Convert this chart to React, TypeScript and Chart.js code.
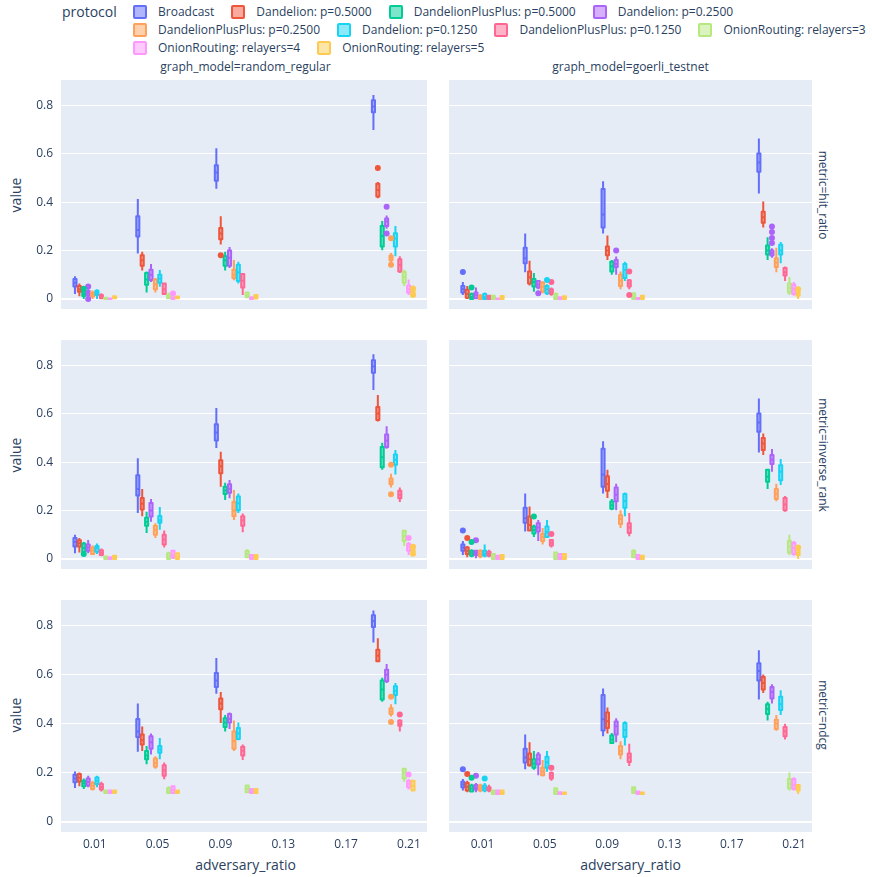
import React, { useEffect, useRef } from "react";
import { Chart, registerables } from "chart.js";

Chart.register(...registerables);

// ---------------- data ----------------
const PROTOCOLS = [
  "Broadcast",
  "Dandelion: p=0.5000",
  "DandelionPlusPlus: p=0.5000",
  "Dandelion: p=0.2500",
  "DandelionPlusPlus: p=0.2500",
  "Dandelion: p=0.1250",
  "DandelionPlusPlus: p=0.1250",
  "OnionRouting: relayers=3",
  "OnionRouting: relayers=4",
  "OnionRouting: relayers=5",
];
const COLORS = ["#636EFA", "#EF553B", "#00CC96", "#AB63FA", "#FFA15A", "#19D3F3", "#FF6692", "#B6E880", "#FF97FF", "#FECB52"];
const ADVERSARY_RATIOS = [0.01, 0.05, 0.1, 0.2];
const X_TICKS = [0.01, 0.05, 0.09, 0.13, 0.17, 0.21];
const Y_TICKS = [0, 0.2, 0.4, 0.6, 0.8];
const GRAPH_MODELS = ["random_regular", "goerli_testnet"];
const METRICS = ["hit_ratio", "inverse_rank", "ndcg"];

// each box: [lowerWhisker, q1, median, q3, upperWhisker]; rows = protocols, columns = adversary ratios
const randomRegularHitRatio = [
  [[0.02, 0.051, 0.067, 0.083, 0.094], [0.188, 0.258, 0.285, 0.342, 0.413], [0.456, 0.489, 0.523, 0.553, 0.623], [0.698, 0.772, 0.795, 0.821, 0.843]],
  [[0.011, 0.03, 0.04, 0.054, 0.064], [0.118, 0.137, 0.16, 0.181, 0.195], [0.225, 0.247, 0.271, 0.293, 0.342], [0.416, 0.423, 0.45, 0.476, 0.483]],
  [[0.0, 0.012, 0.02, 0.03, 0.035], [0.027, 0.059, 0.08, 0.107, 0.114], [0.118, 0.137, 0.16, 0.177, 0.195], [0.201, 0.217, 0.26, 0.302, 0.322]],
  [[0.008, 0.015, 0.025, 0.033, 0.042], [0.07, 0.078, 0.1, 0.121, 0.144], [0.128, 0.137, 0.17, 0.2, 0.215], [0.29, 0.302, 0.32, 0.333, 0.345]],
  [[0.0, 0.01, 0.018, 0.027, 0.035], [0.027, 0.04, 0.06, 0.08, 0.087], [0.077, 0.087, 0.1, 0.121, 0.161], [0.15, 0.16, 0.17, 0.18, 0.19]],
  [[0.0, 0.016, 0.025, 0.034, 0.04], [0.05, 0.067, 0.085, 0.1, 0.12], [0.064, 0.074, 0.11, 0.141, 0.154], [0.177, 0.217, 0.25, 0.272, 0.302]],
  [[0.0, 0.003, 0.01, 0.016, 0.024], [0.016, 0.02, 0.04, 0.064, 0.067], [0.016, 0.047, 0.075, 0.103, 0.107], [0.107, 0.114, 0.14, 0.164, 0.177]],
  [[0.0, 0.0, 0.002, 0.005, 0.007], [0.0, 0.003, 0.008, 0.016, 0.027], [0.005, 0.007, 0.015, 0.027, 0.03], [0.054, 0.067, 0.09, 0.111, 0.121]],
  [[0.0, 0.0, 0.0, 0.002, 0.003], [0.0, 0.0, 0.003, 0.007, 0.01], [0.0, 0.0, 0.003, 0.007, 0.01], [0.016, 0.027, 0.04, 0.056, 0.08]],
  [[0.0, 0.003, 0.008, 0.011, 0.012], [0.0, 0.003, 0.006, 0.01, 0.012], [0.0, 0.002, 0.008, 0.016, 0.02], [0.022, 0.025, 0.03, 0.034, 0.037]],
];
// outliers: [protocolIndex, ratioIndex, value]
const randomRegularHitRatioOutliers = [
  [2, 0, 0.042], [3, 0, 0.051], [3, 0, 0.0], [8, 1, 0.023], [1, 2, 0.181],
  [1, 3, 0.541], [3, 3, 0.381], [3, 3, 0.271], [4, 3, 0.251], [4, 3, 0.141], [9, 3, 0.043], [9, 3, 0.016],
];

const goerliTestnetHitRatio = [
  [[0.016, 0.027, 0.04, 0.054, 0.07], [0.11, 0.148, 0.168, 0.212, 0.271], [0.271, 0.295, 0.349, 0.454, 0.486], [0.436, 0.526, 0.564, 0.601, 0.663]],
  [[0.0, 0.005, 0.02, 0.038, 0.054], [0.056, 0.064, 0.09, 0.114, 0.158], [0.161, 0.181, 0.2, 0.217, 0.262], [0.295, 0.315, 0.338, 0.36, 0.403]],
  [[0.0, 0.0, 0.008, 0.02, 0.027], [0.03, 0.051, 0.07, 0.083, 0.107], [0.1, 0.114, 0.135, 0.154, 0.161], [0.161, 0.184, 0.2, 0.221, 0.255]],
  [[0.0, 0.003, 0.015, 0.027, 0.047], [0.04, 0.047, 0.06, 0.074, 0.078], [0.1, 0.132, 0.145, 0.161, 0.175], [0.17, 0.18, 0.19, 0.2, 0.21]],
  [[0.0, 0.0, 0.006, 0.013, 0.02], [0.024, 0.03, 0.05, 0.067, 0.074], [0.04, 0.054, 0.075, 0.1, 0.114], [0.11, 0.132, 0.15, 0.168, 0.212]],
  [[0.0, 0.0, 0.008, 0.02, 0.027], [0.016, 0.024, 0.04, 0.054, 0.061], [0.074, 0.087, 0.12, 0.145, 0.154], [0.148, 0.184, 0.2, 0.224, 0.235]],
  [[0.0, 0.0, 0.005, 0.013, 0.016], [0.013, 0.02, 0.03, 0.04, 0.047], [0.04, 0.051, 0.064, 0.077, 0.083], [0.074, 0.097, 0.11, 0.128, 0.134]],
  [[0.0, 0.0, 0.005, 0.013, 0.016], [0.0, 0.0, 0.008, 0.02, 0.027], [0.0, 0.0, 0.01, 0.024, 0.027], [0.016, 0.027, 0.045, 0.064, 0.091]],
  [[0.0, 0.0, 0.0, 0.002, 0.003], [0.0, 0.0, 0.002, 0.007, 0.008], [0.0, 0.0, 0.002, 0.004, 0.005], [0.013, 0.02, 0.04, 0.06, 0.07]],
  [[0.0, 0.0, 0.006, 0.012, 0.016], [0.0, 0.0, 0.006, 0.011, 0.013], [0.0, 0.0, 0.005, 0.013, 0.015], [0.0, 0.013, 0.02, 0.03, 0.034]],
];
const goerliTestnetHitRatioOutliers = [
  [0, 0, 0.111], [2, 0, 0.047], [3, 1, 0.024], [5, 1, 0.078], [6, 1, 0.07],
  [3, 2, 0.2], [6, 2, 0.113], [6, 2, 0.016],
  [3, 3, 0.3], [3, 3, 0.277], [3, 3, 0.252], [3, 3, 0.231], [9, 3, 0.04],
];

const randomRegularInverseRank = [
  [[0.024, 0.051, 0.07, 0.087, 0.1], [0.19, 0.262, 0.289, 0.346, 0.416], [0.459, 0.49, 0.523, 0.557, 0.624], [0.698, 0.77, 0.795, 0.821, 0.846]],
  [[0.027, 0.051, 0.065, 0.077, 0.087], [0.177, 0.204, 0.228, 0.252, 0.289], [0.298, 0.354, 0.383, 0.408, 0.443], [0.568, 0.574, 0.601, 0.628, 0.678]],
  [[0.024, 0.03, 0.045, 0.064, 0.07], [0.107, 0.137, 0.154, 0.17, 0.195], [0.244, 0.268, 0.283, 0.298, 0.315], [0.369, 0.379, 0.42, 0.463, 0.48]],
  [[0.024, 0.034, 0.047, 0.06, 0.078], [0.154, 0.175, 0.2, 0.231, 0.248], [0.251, 0.274, 0.29, 0.309, 0.326], [0.456, 0.463, 0.49, 0.514, 0.548]],
  [[0.016, 0.02, 0.035, 0.047, 0.056], [0.087, 0.1, 0.121, 0.137, 0.148], [0.161, 0.177, 0.2, 0.235, 0.285], [0.295, 0.309, 0.32, 0.333, 0.352]],
  [[0.02, 0.03, 0.045, 0.054, 0.064], [0.121, 0.15, 0.16, 0.178, 0.215], [0.19, 0.201, 0.23, 0.258, 0.271], [0.349, 0.389, 0.41, 0.432, 0.45]],
  [[0.011, 0.016, 0.026, 0.036, 0.043], [0.047, 0.06, 0.08, 0.1, 0.118], [0.11, 0.137, 0.16, 0.177, 0.188], [0.235, 0.251, 0.265, 0.282, 0.295]],
  [[0.0, 0.0, 0.005, 0.01, 0.013], [0.0, 0.0, 0.01, 0.024, 0.03], [0.007, 0.007, 0.02, 0.034, 0.04], [0.054, 0.074, 0.095, 0.117, 0.121]],
  [[0.0, 0.0, 0.003, 0.007, 0.01], [0.0, 0.005, 0.015, 0.034, 0.036], [0.0, 0.0, 0.005, 0.016, 0.016], [0.016, 0.034, 0.05, 0.063, 0.07]],
  [[0.0, 0.0, 0.005, 0.013, 0.014], [0.0, 0.0, 0.008, 0.024, 0.024], [0.0, 0.0, 0.008, 0.016, 0.016], [0.028, 0.03, 0.035, 0.04, 0.043]],
];
const randomRegularInverseRankOutliers = [
  [2, 0, 0.02], [4, 3, 0.389], [4, 3, 0.267], [8, 3, 0.087], [9, 3, 0.05], [9, 3, 0.022],
];

const goerliTestnetInverseRank = [
  [[0.016, 0.034, 0.047, 0.06, 0.074], [0.114, 0.15, 0.168, 0.212, 0.271], [0.271, 0.298, 0.349, 0.456, 0.486], [0.44, 0.526, 0.564, 0.601, 0.663]],
  [[0.007, 0.02, 0.034, 0.047, 0.054], [0.114, 0.118, 0.14, 0.175, 0.217], [0.252, 0.282, 0.31, 0.342, 0.369], [0.43, 0.45, 0.477, 0.5, 0.519]],
  [[0.007, 0.013, 0.024, 0.034, 0.04], [0.091, 0.105, 0.12, 0.134, 0.141], [0.201, 0.208, 0.222, 0.238, 0.248], [0.289, 0.319, 0.34, 0.369, 0.373]],
  [[0.003, 0.016, 0.025, 0.034, 0.038], [0.074, 0.114, 0.13, 0.148, 0.161], [0.201, 0.239, 0.265, 0.295, 0.311], [0.36, 0.392, 0.41, 0.43, 0.454]],
  [[0.003, 0.011, 0.022, 0.034, 0.04], [0.06, 0.074, 0.09, 0.103, 0.128], [0.128, 0.145, 0.165, 0.181, 0.201], [0.239, 0.248, 0.27, 0.289, 0.311]],
  [[0.007, 0.013, 0.022, 0.034, 0.06], [0.087, 0.091, 0.11, 0.134, 0.161], [0.177, 0.212, 0.24, 0.268, 0.275], [0.306, 0.325, 0.36, 0.387, 0.413]],
  [[0.007, 0.013, 0.02, 0.03, 0.038], [0.047, 0.056, 0.067, 0.078, 0.083], [0.094, 0.107, 0.13, 0.148, 0.19], [0.195, 0.201, 0.225, 0.252, 0.26]],
  [[0.0, 0.0, 0.01, 0.02, 0.024], [0.0, 0.0, 0.012, 0.027, 0.03], [0.003, 0.007, 0.02, 0.034, 0.04], [0.016, 0.027, 0.05, 0.074, 0.1]],
  [[0.0, 0.0, 0.005, 0.013, 0.014], [0.0, 0.0, 0.007, 0.02, 0.02], [0.0, 0.0, 0.005, 0.016, 0.016], [0.013, 0.02, 0.045, 0.067, 0.074]],
  [[0.0, 0.0, 0.008, 0.016, 0.016], [0.0, 0.0, 0.008, 0.02, 0.02], [0.0, 0.0, 0.005, 0.013, 0.013], [0.0, 0.016, 0.025, 0.035, 0.04]],
];
const goerliTestnetInverseRankOutliers = [
  [0, 0, 0.118], [1, 0, 0.087], [2, 0, 0.07], [3, 0, 0.077], [2, 1, 0.175], [6, 1, 0.103], [9, 3, 0.047],
];

const randomRegularNdcg = [
  [[0.138, 0.161, 0.177, 0.192, 0.205], [0.286, 0.346, 0.369, 0.42, 0.483], [0.523, 0.55, 0.577, 0.607, 0.668], [0.732, 0.795, 0.819, 0.843, 0.862]],
  [[0.145, 0.165, 0.18, 0.195, 0.201], [0.289, 0.315, 0.333, 0.356, 0.389], [0.403, 0.459, 0.483, 0.503, 0.53], [0.651, 0.655, 0.678, 0.702, 0.749]],
  [[0.134, 0.145, 0.157, 0.168, 0.177], [0.235, 0.255, 0.271, 0.289, 0.309], [0.369, 0.387, 0.405, 0.423, 0.436], [0.49, 0.499, 0.54, 0.577, 0.588]],
  [[0.141, 0.148, 0.162, 0.177, 0.188], [0.275, 0.298, 0.325, 0.349, 0.36], [0.379, 0.405, 0.42, 0.44, 0.446], [0.566, 0.574, 0.6, 0.62, 0.644]],
  [[0.128, 0.134, 0.147, 0.158, 0.168], [0.217, 0.225, 0.24, 0.258, 0.268], [0.289, 0.298, 0.33, 0.369, 0.413], [0.43, 0.44, 0.45, 0.463, 0.48]],
  [[0.141, 0.154, 0.168, 0.181, 0.188], [0.255, 0.282, 0.295, 0.309, 0.342], [0.333, 0.338, 0.36, 0.383, 0.405], [0.48, 0.517, 0.535, 0.553, 0.566]],
  [[0.124, 0.132, 0.142, 0.154, 0.164], [0.174, 0.188, 0.21, 0.231, 0.242], [0.252, 0.271, 0.29, 0.306, 0.315], [0.369, 0.392, 0.4, 0.413, 0.419]],
  [[0.114, 0.118, 0.122, 0.128, 0.132], [0.114, 0.118, 0.125, 0.137, 0.145], [0.118, 0.121, 0.134, 0.148, 0.151], [0.164, 0.177, 0.2, 0.217, 0.221]],
  [[0.114, 0.118, 0.122, 0.128, 0.132], [0.118, 0.118, 0.13, 0.145, 0.145], [0.118, 0.118, 0.124, 0.134, 0.134], [0.132, 0.141, 0.155, 0.168, 0.175]],
  [[0.114, 0.118, 0.12, 0.128, 0.13], [0.118, 0.118, 0.121, 0.128, 0.128], [0.118, 0.118, 0.124, 0.134, 0.134], [0.124, 0.128, 0.147, 0.168, 0.172]],
];
const randomRegularNdcgOutliers = [
  [4, 3, 0.51], [4, 3, 0.407], [6, 3, 0.438], [8, 3, 0.193],
];

const goerliTestnetNdcg = [
  [[0.128, 0.141, 0.152, 0.164, 0.175], [0.215, 0.242, 0.262, 0.298, 0.356], [0.349, 0.373, 0.419, 0.517, 0.544], [0.499, 0.577, 0.615, 0.647, 0.7]],
  [[0.121, 0.128, 0.143, 0.158, 0.168], [0.225, 0.231, 0.255, 0.279, 0.325], [0.36, 0.383, 0.41, 0.446, 0.466], [0.526, 0.54, 0.566, 0.591, 0.601]],
  [[0.121, 0.124, 0.136, 0.148, 0.155], [0.212, 0.221, 0.238, 0.255, 0.289], [0.319, 0.322, 0.335, 0.352, 0.362], [0.413, 0.44, 0.46, 0.48, 0.49]],
  [[0.121, 0.132, 0.14, 0.15, 0.158], [0.19, 0.235, 0.255, 0.275, 0.285], [0.325, 0.356, 0.39, 0.409, 0.423], [0.483, 0.503, 0.53, 0.55, 0.561]],
  [[0.121, 0.128, 0.138, 0.148, 0.155], [0.185, 0.19, 0.205, 0.221, 0.252], [0.255, 0.275, 0.29, 0.309, 0.329], [0.372, 0.379, 0.4, 0.416, 0.436]],
  [[0.121, 0.128, 0.138, 0.148, 0.158], [0.204, 0.221, 0.243, 0.266, 0.289], [0.311, 0.346, 0.375, 0.403, 0.41], [0.436, 0.456, 0.48, 0.51, 0.537]],
  [[0.121, 0.128, 0.134, 0.141, 0.151], [0.168, 0.177, 0.188, 0.199, 0.205], [0.228, 0.244, 0.262, 0.279, 0.319], [0.336, 0.349, 0.37, 0.387, 0.4]],
  [[0.114, 0.114, 0.12, 0.128, 0.13], [0.114, 0.114, 0.125, 0.137, 0.14], [0.118, 0.118, 0.128, 0.141, 0.144], [0.128, 0.137, 0.155, 0.175, 0.201]],
  [[0.112, 0.114, 0.118, 0.128, 0.13], [0.112, 0.114, 0.117, 0.121, 0.123], [0.114, 0.114, 0.118, 0.124, 0.126], [0.128, 0.134, 0.15, 0.175, 0.182]],
  [[0.112, 0.114, 0.118, 0.128, 0.13], [0.112, 0.114, 0.117, 0.12, 0.121], [0.112, 0.114, 0.116, 0.12, 0.122], [0.114, 0.128, 0.14, 0.15, 0.154]],
];
const goerliTestnetNdcgOutliers = [
  [0, 0, 0.215], [1, 0, 0.195], [2, 0, 0.18], [3, 0, 0.188], [5, 0, 0.177], [6, 1, 0.221],
];

// panel grid: rows = metrics, columns = graph models
const PANEL_BOXES = [
  [randomRegularHitRatio, goerliTestnetHitRatio],
  [randomRegularInverseRank, goerliTestnetInverseRank],
  [randomRegularNdcg, goerliTestnetNdcg],
];
const PANEL_OUTLIERS = [
  [randomRegularHitRatioOutliers, goerliTestnetHitRatioOutliers],
  [randomRegularInverseRankOutliers, goerliTestnetInverseRankOutliers],
  [randomRegularNdcgOutliers, goerliTestnetNdcgOutliers],
];

// ---------------- style / layout ----------------
const FONT = '"Open Sans", verdana, arial, sans-serif';
const TEXT_COLOR = "#2a3f5f";
const PLOT_BG = "#E5ECF6";
const X_MIN = -0.0115;
const X_MAX = 0.2215;
const Y_MIN = -0.0415;
const Y_MAX = 0.905;
const GROUP_WIDTH = 0.028;
const BOX_GROUP_GAP = 0.3;

const PLOT_LEFT = [61, 446];
const PLOT_W = 369;
const PLOT_TOP = [77, 337, 597];
const PLOT_H = 235;
const Y_AXIS_W = 41;
const X_AXIS_H = 30;

const LEGEND_ROWS = [[0, 1, 2, 3], [4, 5, 6, 7], [8, 9]];
const LEGEND_ROW_Y = [12, 30, 48];
const LEGEND_LEFT = 118;

function rgba(hex: string, a: number) {
  const n = parseInt(hex.slice(1), 16);
  return `rgba(${(n >> 16) & 255},${(n >> 8) & 255},${n & 255},${a})`;
}

function offsetFor(i: number) {
  const slot = GROUP_WIDTH / PROTOCOLS.length;
  return -GROUP_WIDTH / 2 + (i + 0.5) * slot;
}

const boxPlotPlugin = {
  id: "boxPlot",
  beforeDraw(chart: any) {
    const { ctx, chartArea: a } = chart;
    ctx.save();
    ctx.fillStyle = PLOT_BG;
    ctx.fillRect(a.left, a.top, a.right - a.left, a.bottom - a.top);
    ctx.restore();
  },
  beforeDatasetsDraw(chart: any) {
    const { ctx, chartArea: a, scales } = chart;
    const xs = scales.x;
    const ys = scales.y;
    const slot = GROUP_WIDTH / PROTOCOLS.length;
    const halfW = Math.abs(xs.getPixelForValue((slot * (1 - BOX_GROUP_GAP)) / 2) - xs.getPixelForValue(0));
    ctx.save();
    ctx.beginPath();
    ctx.rect(a.left, a.top, a.right - a.left, a.bottom - a.top);
    ctx.clip();
    chart.data.datasets.forEach((ds: any, i: number) => {
      const color = COLORS[i];
      (ds.boxes as number[][]).forEach((b, g) => {
        const cx = xs.getPixelForValue(ADVERSARY_RATIOS[g] + offsetFor(i));
        const [lo, q1, med, q3, hi] = b.map((v) => ys.getPixelForValue(v));
        ctx.lineWidth = 2;
        ctx.lineJoin = "round";
        ctx.strokeStyle = color;
        ctx.fillStyle = rgba(color, 0.5);
        ctx.beginPath();
        ctx.rect(cx - halfW, q3, 2 * halfW, q1 - q3);
        ctx.fill();
        ctx.beginPath();
        ctx.moveTo(cx - halfW, med);
        ctx.lineTo(cx + halfW, med);
        ctx.moveTo(cx - halfW, q1);
        ctx.lineTo(cx + halfW, q1);
        ctx.lineTo(cx + halfW, q3);
        ctx.lineTo(cx - halfW, q3);
        ctx.closePath();
        ctx.moveTo(cx, q1);
        ctx.lineTo(cx, lo);
        ctx.moveTo(cx, q3);
        ctx.lineTo(cx, hi);
        ctx.stroke();
      });
    });
    ctx.restore();
  },
};

function Panel({ row, col }: { row: number; col: number }) {
  const ref = useRef<HTMLCanvasElement>(null);
  const showY = col === 0;
  const showX = row === METRICS.length - 1;
  const left = PLOT_LEFT[col] - (showY ? Y_AXIS_W : 0);
  const width = PLOT_W + (showY ? Y_AXIS_W : 0);
  const top = PLOT_TOP[row];
  const height = PLOT_H + (showX ? X_AXIS_H : 0);

  useEffect(() => {
    if (!ref.current) return;
    const boxes = PANEL_BOXES[row][col];
    const outliers = PANEL_OUTLIERS[row][col];
    const chart = new Chart(ref.current, {
      type: "scatter",
      data: {
        datasets: PROTOCOLS.map((p, i) => ({
          label: p,
          boxes: boxes[i],
          data: outliers
            .filter((o) => o[0] === i)
            .map((o) => ({ x: ADVERSARY_RATIOS[o[1]] + offsetFor(i), y: o[2] })),
          backgroundColor: COLORS[i],
          borderColor: COLORS[i],
          borderWidth: 0,
          pointRadius: 3,
          pointHoverRadius: 3,
        })) as any,
      },
      options: {
        animation: false,
        responsive: false,
        events: [],
        layout: { padding: 0 },
        plugins: { legend: { display: false }, tooltip: { enabled: false } },
        scales: {
          x: {
            type: "linear",
            min: X_MIN,
            max: X_MAX,
            grid: { display: false, drawTicks: false },
            border: { display: false },
            afterBuildTicks: (s: any) => {
              s.ticks = X_TICKS.map((v) => ({ value: v }));
            },
            afterFit: (s: any) => {
              s.height = showX ? X_AXIS_H : 0;
              s.paddingLeft = 0;
              s.paddingRight = 0;
            },
            ticks: {
              display: showX,
              autoSkip: false,
              maxRotation: 0,
              padding: 5,
              color: TEXT_COLOR,
              font: { family: FONT, size: 12 },
              callback: (v: any) => String(v),
            },
          },
          y: {
            type: "linear",
            min: Y_MIN,
            max: Y_MAX,
            grid: {
              color: "#ffffff",
              lineWidth: (c: any) => (c.tick && c.tick.value === 0 ? 2 : 1),
              drawTicks: false,
            },
            border: { display: false },
            afterBuildTicks: (s: any) => {
              s.ticks = Y_TICKS.map((v) => ({ value: v }));
            },
            afterFit: (s: any) => {
              s.width = showY ? Y_AXIS_W : 0;
              s.paddingTop = 0;
              s.paddingBottom = 0;
            },
            ticks: {
              display: showY,
              padding: 8,
              color: TEXT_COLOR,
              font: { family: FONT, size: 12 },
              callback: (v: any) => String(v),
            },
          },
        },
      } as any,
      plugins: [boxPlotPlugin as any],
    });
    return () => chart.destroy();
  }, []);

  return (
    <canvas
      ref={ref}
      width={width}
      height={height}
      style={{ position: "absolute", left, top, width, height }}
    />
  );
}

const textBase: React.CSSProperties = {
  position: "absolute",
  color: TEXT_COLOR,
  fontFamily: FONT,
  whiteSpace: "nowrap",
  lineHeight: 1,
};

export default function App() {
  const rowCenters = PLOT_TOP.map((t) => t + PLOT_H / 2);
  const colCenters = PLOT_LEFT.map((l) => l + PLOT_W / 2);
  return (
    <div style={{ position: "absolute", left: 0, top: 0, width: 872, height: 877, background: "#fff", overflow: "hidden" }}>
      {/* legend */}
      <div style={{ ...textBase, left: 62, top: 12, fontSize: 14, transform: "translateY(-50%)" }}>protocol</div>
      {LEGEND_ROWS.map((items, r) => (
        <div
          key={"lr" + r}
          style={{ position: "absolute", left: LEGEND_LEFT, top: LEGEND_ROW_Y[r] - 9, height: 18, display: "flex", alignItems: "center" }}
        >
          {items.map((i) => (
            <div key={PROTOCOLS[i]} style={{ display: "flex", alignItems: "center", marginRight: 2 }}>
              <div style={{ width: 40, height: 18, position: "relative", flex: "none" }}>
                <div
                  style={{
                    position: "absolute",
                    left: 15,
                    top: 2,
                    width: 14,
                    height: 14,
                    boxSizing: "border-box",
                    border: `2px solid ${COLORS[i]}`,
                    background: rgba(COLORS[i], 0.5),
                    borderRadius: 2,
                  }}
                />
              </div>
              <span style={{ color: TEXT_COLOR, fontFamily: FONT, fontSize: 12, whiteSpace: "nowrap", lineHeight: "18px" }}>
                {PROTOCOLS[i]}
              </span>
            </div>
          ))}
        </div>
      ))}
      {/* column titles */}
      {GRAPH_MODELS.map((g, c) => (
        <div key={g} style={{ ...textBase, left: colCenters[c], top: 67, fontSize: 12, transform: "translate(-50%,-50%)" }}>
          {`graph_model=${g}`}
        </div>
      ))}
      {/* row titles */}
      {METRICS.map((m, r) => (
        <div key={m} style={{ ...textBase, left: 823, top: rowCenters[r], fontSize: 12, transform: "translate(-50%,-50%) rotate(90deg)" }}>
          {`metric=${m}`}
        </div>
      ))}
      {/* y axis titles */}
      {METRICS.map((m, r) => (
        <div key={m + "y"} style={{ ...textBase, left: 16, top: rowCenters[r], fontSize: 14, transform: "translate(-50%,-50%) rotate(-90deg)" }}>
          value
        </div>
      ))}
      {/* x axis titles */}
      {GRAPH_MODELS.map((g, c) => (
        <div key={g + "x"} style={{ ...textBase, left: colCenters[c], top: 865, fontSize: 14, transform: "translate(-50%,-50%)" }}>
          adversary_ratio
        </div>
      ))}
      {METRICS.map((m, r) => GRAPH_MODELS.map((g, c) => <Panel key={m + g} row={r} col={c} />))}
    </div>
  );
}
